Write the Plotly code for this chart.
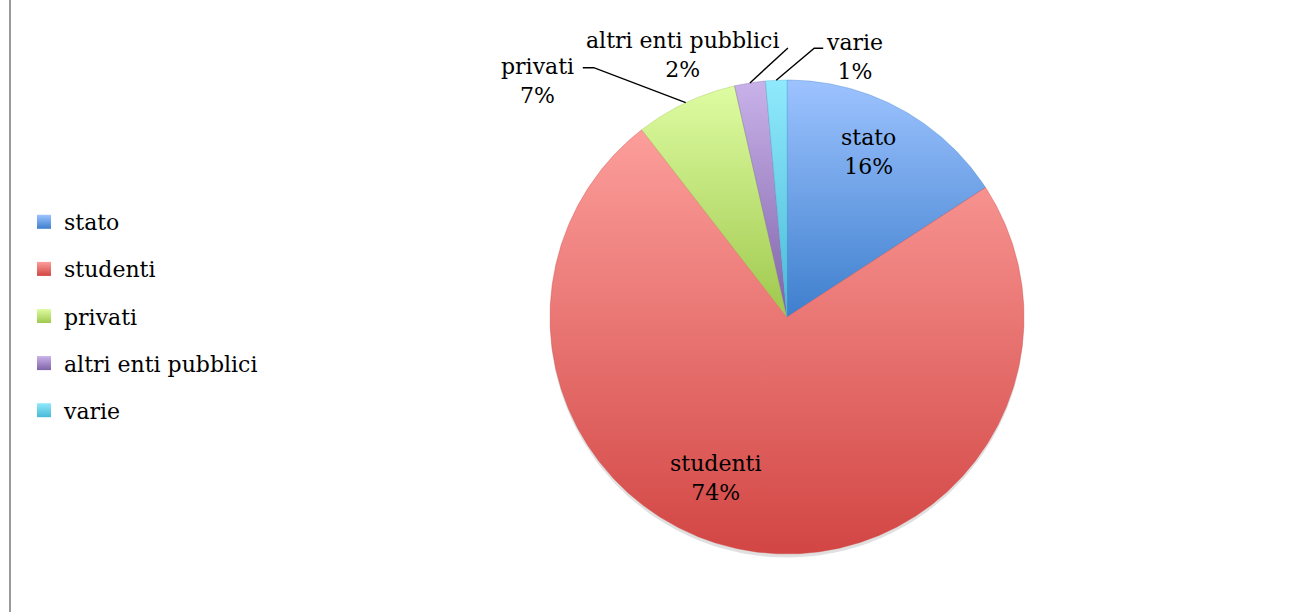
import math
import plotly.graph_objects as go

# ---- data ----
categories = ["stato", "studenti", "privati", "altri enti pubblici", "varie"]
values = [15.8, 73.7, 6.95, 2.1, 1.45]

# ---- style ----
colors_top = ["#9DC3FF", "#FC9E9B", "#DEFCA2", "#C9B2EA", "#90E9FC"]
colors_bottom = ["#3E7FCD", "#D24644", "#9FC84D", "#7F63A8", "#48BAD7"]
FONT = "DejaVu Serif"
FS = 22
W, H = 1294, 612
CX_PX, CY_PX, R_PX = 787, 317, 237

# label placement (style): inside labels -> (angle shift deg, radius fraction)
inside_labels = {"stato": (-2.2, 0.775), "studenti": (14.3, 0.742)}
# outside labels: pixel offsets from slice edge point (dx right, dy down)
outside_labels = {
    "privati": {"elbow": (-92, -35), "end": (-103, -35), "text": (-148, -22)},
    "altri enti pubblici": {"elbow": (38, -35), "end": (38, -35), "text": (-67, -28)},
    "varie": {"elbow": (38, -32), "end": (47, -32), "text": (78, -23)},
}


def polar(angle_deg, r):
    a = math.radians(angle_deg)
    return r * math.sin(a), r * math.cos(a)


def px_off(dx, dy):
    return dx / R_PX, -dy / R_PX


fig = go.Figure()

# subtle shadow below the pie
sh_x, sh_y = [], []
for k in range(0, 361, 2):
    x, y = polar(k, 1.0)
    sh_x.append(x)
    sh_y.append(y - 3.5 / R_PX)
fig.add_trace(go.Scatter(x=sh_x, y=sh_y, mode="lines", fill="toself",
                         line=dict(width=0, color="rgba(0,0,0,0)"),
                         fillcolor="rgba(0,0,0,0.12)", hoverinfo="skip", showlegend=False))

total = sum(values)
start = 0.0
annotations = []
for i, (cat, v) in enumerate(zip(categories, values)):
    span = v / total * 360.0
    end = start + span
    n = max(4, int(span * 2))
    xs, ys = [0.0], [0.0]
    for k in range(n + 1):
        x, y = polar(start + span * k / n, 1.0)
        xs.append(x)
        ys.append(y)
    xs.append(0.0)
    ys.append(0.0)
    fig.add_trace(go.Scatter(
        x=xs, y=ys, mode="lines", fill="toself",
        line=dict(width=0.4, color=colors_bottom[i]),
        fillgradient=dict(type="vertical",
                          colorscale=[[0, colors_bottom[i]], [1, colors_top[i]]]),
        name=cat, showlegend=False, hoverinfo="name"))

    pct = f"{round(v / total * 100)}%"
    mid = start + span / 2
    if cat in inside_labels:
        sh, rf = inside_labels[cat]
        tx, ty = polar(mid + sh, rf)
        annotations.append(dict(x=tx, y=ty, text=f"{cat}<br>{pct}", showarrow=False,
                                xanchor="center", yanchor="middle",
                                font=dict(family=FONT, size=FS, color="#000000")))
    else:
        o = outside_labels[cat]
        ex, ey = polar(mid, 1.0)
        bx, by = px_off(*o["elbow"])
        nx, ny = px_off(*o["end"])
        tx, ty = px_off(*o["text"])
        fig.add_trace(go.Scatter(x=[ex, ex + bx, ex + nx], y=[ey, ey + by, ey + ny],
                                 mode="lines", line=dict(color="#000000", width=1.4),
                                 hoverinfo="skip", showlegend=False))
        annotations.append(dict(x=ex + tx, y=ey + ty, text=f"{cat}<br>{pct}", showarrow=False,
                                xanchor="center", yanchor="middle",
                                font=dict(family=FONT, size=FS, color="#000000")))
    start = end

# legend entries
for i, cat in enumerate(categories):
    fig.add_trace(go.Scatter(
        x=[None], y=[None], mode="markers", name=cat, legendgroup=cat,
        marker=dict(symbol="square", size=14, color=colors_top[i],
                    gradient=dict(type="vertical", color=colors_bottom[i]))))

fig.update_layout(
    width=W, height=H,
    margin=dict(l=0, r=0, t=0, b=0),
    paper_bgcolor="white", plot_bgcolor="white",
    xaxis=dict(range=[-CX_PX / R_PX, (W - CX_PX) / R_PX], visible=False, fixedrange=True),
    yaxis=dict(range=[-(H - CY_PX) / R_PX, CY_PX / R_PX], visible=False, fixedrange=True),
    annotations=annotations,
    legend=dict(x=24 / W, y=1 - 201 / H, xanchor="left", yanchor="top",
                font=dict(family=FONT, size=FS, color="#000000"),
                tracegroupgap=15.5, bgcolor="rgba(0,0,0,0)"),
    shapes=[dict(type="line", xref="paper", yref="paper", x0=10 / W, x1=10 / W, y0=0, y1=1,
                 line=dict(color="#9a9a9a", width=2))],
    showlegend=True,
)

fig.write_html("out.html", config={"displayModeBar": False},
               post_script="document.body.style.margin='0';document.body.style.overflow='hidden';")
